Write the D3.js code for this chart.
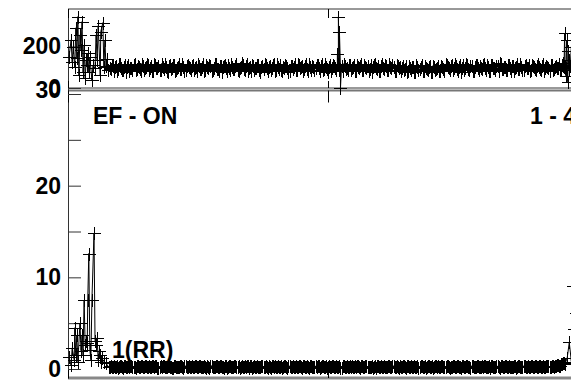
<!DOCTYPE html>
<html>
<head>
<meta charset="utf-8">
<script src="https://cdn.jsdelivr.net/npm/d3@7"></script>
<style>
  body { margin: 0; background: #fff; }
  svg text { font-family: "Liberation Sans", Arial, sans-serif; font-weight: bold; font-size: 23px; fill: #000; }
</style>
</head>
<body>
<svg id="chart" width="571" height="380"></svg>
<script>
// sample index runs 0..1000 across the (cropped) x range
const xDomain = [0, 1000];
const xTicks = [0, 500, 1000];

// upper panel: first samples, dense band (two interleaved runs, every 2nd sample from 80), spikes
const topHeadIdx = [2, 6, 8, 10, 13, 15, 17, 19, 21, 23, 25, 27, 29, 31, 33, 35, 37, 38, 40, 42, 46, 48, 52, 54, 56, 58, 62, 63, 67, 69, 71, 73, 75, 77];
const topHeadVal = [149, 232, 124, 198, 100, 290, 144, 344, 61, 256, 183, 320, 76, 207, 46, 134, 110, 168, 76, 149, 37, 110, 95, 256, 134, 300, 61, 271, 315, 100, 230, 105, 140, 85];
const topBandStart = 80;
const topBandA = [
  98, 112, 84, 105, 91, 117, 88, 101, 79, 110, 95, 86, 114, 93, 102, 80, 108, 97, 115, 89,
  104, 83, 111, 96, 87, 118, 92, 100, 78, 109, 94, 113, 85, 103, 90, 116, 82, 107, 99, 88,
  112, 95, 81, 106, 93, 117, 86, 101, 110, 84, 97, 114, 90, 105, 79, 108, 96, 111, 87, 102,
  93, 115, 83, 100, 109, 89, 118, 94, 80, 106, 98, 113, 85, 103, 91, 110, 82, 107, 95, 116,
  88, 101, 112, 84, 97, 108, 79, 104, 93, 115, 86, 110, 99, 81, 106, 92, 117, 87, 102, 96,
  109, 83, 114, 90, 100, 78, 111, 95, 105, 86, 118, 93, 82, 107, 98, 113, 89, 103, 80, 110,
  94, 116, 85, 101, 108, 91, 79, 112, 97, 104, 84, 115, 92, 106, 88, 100, 113, 83, 109, 96,
  82, 104, 93, 77, 108, 88, 99, 76, 102, 90, 110, 81, 97, 85, 104, 79, 100, 92, 108, 84,
  103, 81, 112, 94, 107, 85, 116, 92, 100, 79, 109, 96, 113, 88, 104, 83, 111, 97, 106, 91,
  115, 86, 102, 80, 110, 95, 108, 84, 117, 93, 99, 87, 112, 82, 105, 97, 114, 90, 101, 85,
  109, 94, 83, 113, 100, 88, 116, 92, 104, 81, 107, 98, 111, 86, 103, 95, 118, 89, 106, 99
];
const topBandB = [
  90, 106, 99, 83, 115, 94, 87, 110, 101, 81, 97, 113, 88, 104, 92, 118, 85, 100, 109, 95,
  82, 114, 96, 105, 89, 101, 117, 84, 107, 93, 111, 80, 98, 116, 91, 103, 86, 112, 97, 108,
  87, 103, 116, 91, 99, 82, 110, 95, 106, 89, 118, 93, 84, 108, 100, 112, 81, 96, 114, 90,
  105, 86, 98, 119, 92, 107, 83, 101, 113, 88, 96, 110, 79, 104, 117, 94, 100, 87, 111, 83,
  115, 92, 85, 103, 110, 96, 81, 107, 99, 88, 114, 94, 105, 90, 118, 83, 99, 108, 86, 112,
  95, 107, 87, 116, 93, 102, 84, 110, 97, 113, 89, 104, 117, 92, 85, 109, 96, 111, 82, 101,
  106, 88, 113, 97, 84, 109, 100, 118, 91, 83, 107, 96, 110, 87, 115, 94, 102, 81, 105, 99,
  98, 86, 107, 81, 95, 103, 78, 110, 87, 99, 84, 106, 92, 101, 77, 108, 89, 96, 83, 104,
  90, 114, 99, 86, 111, 95, 104, 82, 109, 97, 88, 115, 93, 106, 84, 101, 112, 89, 98, 110,
  94, 109, 83, 113, 98, 87, 104, 119, 91, 101, 85, 110, 96, 107, 80, 103, 92, 116, 88, 106,
  97, 112, 85, 104, 91, 108, 101, 86, 115, 94, 99, 83, 110, 92, 107, 96, 88, 113, 102, 94
];
const topSpikeIdx = [518, 520, 522, 524, 952, 955, 957, 959, 961, 962, 963, 964, 966, 968];
const topSpikeVal = [163, 343, 270, 0, 120, 265, 60, 230, 30, 180, 85, 135, 105, 200];

// lower panel
const botHeadIdx = [2, 6, 8, 12, 13, 15, 17, 19, 23, 25, 27, 29, 31, 33, 35, 37, 38, 40, 42, 44, 46, 50, 52, 54, 56, 58, 60, 62, 63, 65, 69, 73];
const botHeadVal = [1.3, 0.4, 2.3, 1.0, 4.5, 1.5, 3.7, 0.8, 5.0, 2.0, 3.7, 1.5, 7.5, 2.6, 3.1, 2.8, 7.5, 12.6, 2.1, 1.0, 7.5, 14.8, 3.1, 2.6, 3.4, 1.0, 2.0, 1.5, 0.8, 1.2, 0.8, 0.65];
const botBandStart = 78;
const botBandA = [
  .22, .31, .18, .27, .35, .2, .29, .16, .33, .24, .19, .3, .26, .14, .34, .23, .28, .17, .32, .21,
  .25, .36, .19, .3, .15, .28, .33, .22, .18, .31, .27, .13, .35, .24, .2, .29, .16, .32, .26, .21,
  .34, .18, .28, .23, .37, .2, .3, .15, .27, .33, .19, .25, .31, .17, .36, .22, .29, .14, .32, .24,
  .2, .3, .26, .16, .34, .23, .19, .31, .28, .13, .35, .22, .27, .18, .33, .25, .21, .3, .15, .29,
  .32, .17, .26, .35, .21, .28, .14, .31, .24, .19, .36, .23, .29, .16, .33, .2, .27, .31, .18, .25,
  .22, .34, .17, .29, .25, .13, .32, .21, .36, .19, .27, .3, .15, .33, .24, .2, .28, .35, .18, .26,
  .31, .16, .28, .23, .34, .2, .26, .14, .32, .29, .18, .35, .22, .27, .17, .3, .24, .33, .19, .25,
  .28, .21, .36, .15, .3, .24, .19, .33, .27, .13, .31, .22, .35, .18, .29, .26, .16, .32, .23, .2,
  .34, .19, .27, .31, .14, .25, .36, .22, .29, .17, .33, .2, .28, .24, .15, .35, .21, .3, .26, .18,
  .23, .32, .17, .28, .35, .2, .26, .31, .14, .29, .24, .37, .19, .27, .22, .33, .16, .3, .25, .21,
  .31, .26, .22, .34, .19, .29, .25, .33, .21, .28, .24, .36, .2, .3, .27, .35, .42, .3, .55, .7
];
const botBandB = [
  .27, .19, .33, .24, .16, .31, .22, .36, .2, .28, .34, .17, .25, .3, .21, .35, .18, .29, .23, .32,
  .2, .28, .34, .16, .26, .22, .37, .19, .3, .24, .15, .33, .27, .2, .31, .18, .35, .23, .29, .17,
  .25, .32, .21, .35, .18, .27, .24, .3, .16, .36, .22, .29, .19, .33, .26, .15, .31, .23, .34, .2,
  .3, .17, .33, .25, .21, .36, .28, .14, .32, .2, .27, .34, .18, .29, .23, .35, .16, .26, .31, .22,
  .19, .3, .24, .16, .33, .27, .35, .2, .28, .23, .17, .32, .25, .36, .21, .29, .15, .34, .22, .3,
  .28, .16, .31, .23, .35, .2, .26, .34, .18, .3, .22, .15, .33, .27, .36, .19, .25, .21, .32, .29,
  .17, .34, .24, .3, .19, .27, .36, .21, .15, .33, .25, .2, .31, .26, .35, .18, .29, .22, .34, .16,
  .24, .33, .18, .29, .22, .36, .27, .17, .31, .2, .35, .26, .14, .3, .23, .34, .19, .28, .32, .21,
  .29, .23, .35, .18, .27, .33, .2, .31, .25, .15, .36, .22, .3, .19, .34, .26, .17, .32, .24, .28,
  .33, .2, .27, .16, .31, .24, .36, .19, .28, .22, .34, .17, .3, .25, .21, .35, .18, .29, .23, .32,
  .26, .35, .2, .3, .24, .33, .18, .31, .27, .22, .34, .29, .23, .38, .31, .45, .36, .5, .62, .58
];
const botSpikeIdx = [960, 964, 968, 972, 974, 976, 978, 980];
const botSpikeVal = [1.2, 2.9, 0.8, 9.1, 4.4, 6.1, 5.1, 2.4];

const topTicks = [0, 200];
const botTicks = [0, 5, 10, 15, 20, 25, 30];
const botLabelled = [0, 10, 20, 30];

const notes = [
  { text: 'EF - ON', x: 93, y: 124 },
  { text: '1 - 4', x: 530, y: 124 },
  { text: '1(RR)', x: 112, y: 358 }
];

function buildSeries(headIdx, headVal, bandA, bandB, bandStart, spikeIdx, spikeVal) {
  const pts = headIdx.map((i, k) => ({ i, v: headVal[k] }));
  bandA.forEach((v, k) => pts.push({ i: bandStart + 4 * k, v }));
  bandB.forEach((v, k) => pts.push({ i: bandStart + 2 + 4 * k, v }));
  spikeIdx.forEach((i, k) => pts.push({ i, v: spikeVal[k] }));
  return pts.sort((a, b) => a.i - b.i);
}

const svg = d3.select('#chart');
const left = 68;

const x = d3.scaleLinear().domain(xDomain).range([left, 588]);
const yTop = d3.scaleLinear().domain([0, 200]).range([88, 46.5]);
const yBot = d3.scaleLinear().domain([0, 30]).range([369, 94]);

// frame
const frame = svg.append('g').attr('fill', 'none');
frame.append('line').attr('x1', left).attr('x2', 571).attr('y1', 9).attr('y2', 9).attr('stroke', '#333');
frame.append('line').attr('x1', left).attr('x2', 571).attr('y1', 88).attr('y2', 88).attr('stroke', '#333');
frame.append('line').attr('x1', left).attr('x2', 571).attr('y1', 90.5).attr('y2', 90.5).attr('stroke', '#777').attr('stroke-width', 2);
frame.append('line').attr('x1', left).attr('x2', 571).attr('y1', 378).attr('y2', 378).attr('stroke', '#888').attr('stroke-width', 3);
frame.append('line').attr('x1', left + 0.5).attr('x2', left + 0.5).attr('y1', 9).attr('y2', 379).attr('stroke', '#333');

// x ticks on every panel edge, pointing inward
function xAxis(axisFn, y, len) {
  const g = svg.append('g')
    .attr('transform', `translate(0,${y})`)
    .call(axisFn(x).tickValues(xTicks).tickSizeInner(-len).tickSizeOuter(0).tickFormat(''));
  g.select('.domain').remove();
  g.selectAll('line').attr('stroke', '#000');
}
xAxis(d3.axisTop, 9, 9);
xAxis(d3.axisBottom, 88, 7);
xAxis(d3.axisTop, 90.5, 12);
xAxis(d3.axisBottom, 378, 8);

// y axes
const gTop = svg.append('g')
  .attr('transform', `translate(${left},0)`)
  .call(d3.axisLeft(yTop).tickValues(topTicks).tickSizeInner(-13).tickSizeOuter(0).tickPadding(7));
gTop.select('.domain').remove();
gTop.selectAll('line').attr('stroke', '#333');

const gBot = svg.append('g')
  .attr('transform', `translate(${left},0)`)
  .call(d3.axisLeft(yBot).tickValues(botTicks).tickSizeInner(-13).tickSizeOuter(0).tickPadding(7)
    .tickFormat(d => botLabelled.includes(d) ? d : ''));
gBot.select('.domain').remove();
gBot.selectAll('line').attr('stroke', '#333');
gBot.selectAll('text').filter(d => d === 30).attr('dy', '0.15em');

// series: line with a plus at every sample
const plus = 'M-6.5,0H6.5M0,-6.5V6.5';

function drawSeries(data, y) {
  const g = svg.append('g');
  g.append('path')
    .datum(data)
    .attr('fill', 'none')
    .attr('stroke', '#000')
    .attr('stroke-width', 1)
    .attr('d', d3.line().x(d => x(d.i)).y(d => y(d.v)));
  g.selectAll('path.mark')
    .data(data)
    .join('path')
    .attr('class', 'mark')
    .attr('d', plus)
    .attr('stroke', '#000')
    .attr('shape-rendering', 'crispEdges')
    .attr('transform', d => `translate(${Math.round(x(d.i)) + 0.5},${Math.round(y(d.v)) + 0.5})`);
}

drawSeries(buildSeries(topHeadIdx, topHeadVal, topBandA, topBandB, topBandStart, topSpikeIdx, topSpikeVal), yTop);
drawSeries(buildSeries(botHeadIdx, botHeadVal, botBandA, botBandB, botBandStart, botSpikeIdx, botSpikeVal), yBot);

svg.selectAll('text.note')
  .data(notes)
  .join('text')
  .attr('class', 'note')
  .attr('x', d => d.x)
  .attr('y', d => d.y)
  .text(d => d.text);
</script>
</body>
</html>
